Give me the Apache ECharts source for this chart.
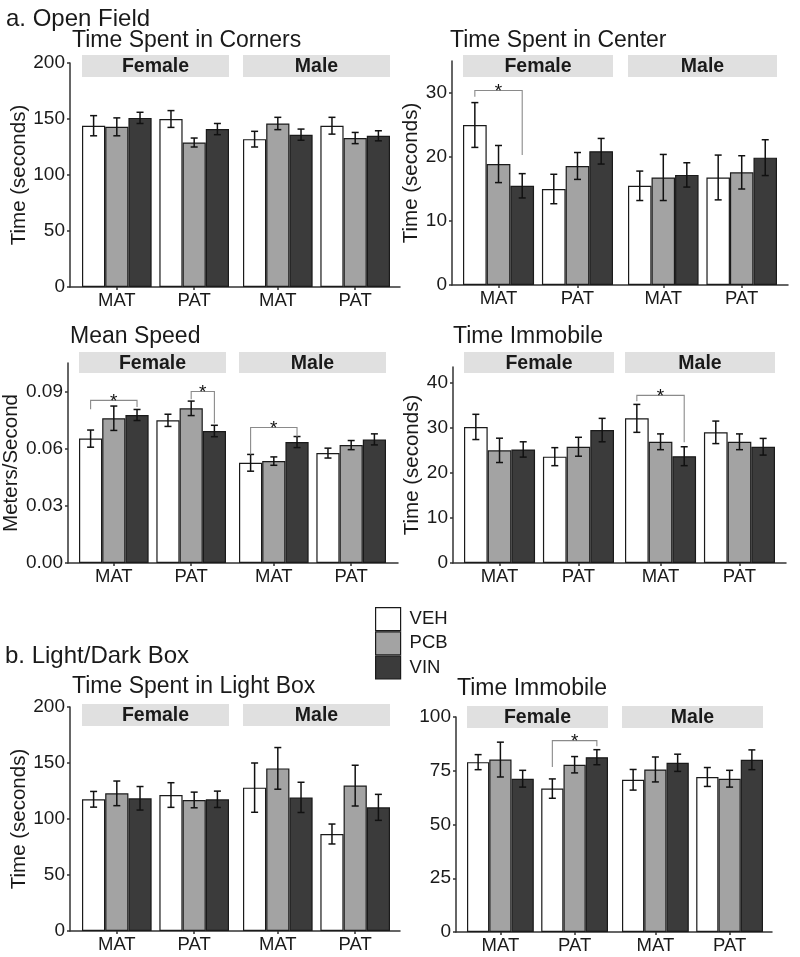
<!DOCTYPE html>
<html><head><meta charset="utf-8">
<script src="https://cdn.jsdelivr.net/npm/echarts@6/dist/echarts.min.js"></script>
<style>html,body{margin:0;padding:0;background:#fff}#c{width:800px;height:957px}</style>
</head><body><div id="c"></div>
<script>
// ---------------- DATA ----------------
const treatments = ['VEH', 'PCB', 'VIN'];
const lineages = ['MAT', 'PAT'];
const sexes = ['Female', 'Male'];
// value order in each array: Female-MAT, Female-PAT, Male-MAT, Male-PAT

// a. Open Field – Time Spent in Corners
const cornersMean = [[144, 150, 132, 144], [143, 129, 146, 133], [151, 141, 136, 135]];
const cornersSE   = [[9, 7.5, 7, 7.5], [8, 4, 5.5, 5], [5, 5, 5, 4.5]];
const cornersTicks = [0, 50, 100, 150, 200];
const cornersSig = [];

// a. Open Field – Time Spent in Center
const centerMean = [[25.0, 15.0, 15.5, 16.8], [18.9, 18.6, 16.8, 17.6], [15.5, 20.9, 17.2, 19.9]];
const centerSE   = [[3.5, 2.3, 2.3, 3.5], [2.9, 2.1, 3.6, 2.6], [1.9, 2.0, 1.9, 2.8]];
const centerTicks = [0, 10, 20, 30];
// [sexIndex, lineageIndex, fromTreatment, toTreatment, top, leftEnd, rightEnd]
const centerSig = [[0, 0, 0, 2, 30.4, 29.4, 20.3]];

// a. Open Field – Mean Speed
const speedMean = [[0.0653, 0.0749, 0.0526, 0.0577], [0.0760, 0.0812, 0.0535, 0.0619], [0.0777, 0.0693, 0.0635, 0.0649]];
const speedSE   = [[0.0045, 0.0032, 0.0044, 0.0026], [0.0064, 0.0038, 0.0022, 0.0024], [0.0029, 0.0030, 0.0029, 0.0029]];
const speedTicks = [0, 0.03, 0.06, 0.09];
const speedSig = [[0, 0, 0, 2, 0.0854, 0.0807, 0.0819], [0, 1, 1, 2, 0.0900, 0.0860, 0.0733], [1, 0, 0, 2, 0.0711, 0.0570, 0.0663]];

// a. Open Field – Time Immobile
const ofImmMean = [[30.2, 23.6, 32.1, 29.0], [25.0, 25.8, 26.9, 26.9], [25.2, 29.5, 23.7, 25.8]];
const ofImmSE   = [[2.8, 2.0, 3.1, 2.5], [2.7, 2.1, 1.75, 1.75], [1.7, 2.6, 2.1, 1.85]];
const ofImmTicks = [0, 10, 20, 30, 40];
const ofImmSig = [[1, 0, 0, 2, 37.2, 35.9, 26.8]];

// b. Light/Dark Box – Time Spent in Light Box
const lightMean = [[117.6, 121.4, 128, 86.6], [122.9, 117.0, 145.2, 129.8], [118.5, 117.6, 119.3, 110.4]];
const lightSE   = [[7, 11, 22, 8.9], [11, 7, 18.6, 18.2], [10.5, 7.3, 13.5, 11.6]];
const lightTicks = [0, 50, 100, 150, 200];
const lightSig = [];

// b. Light/Dark Box – Time Immobile
const ldImmMean = [[79.0, 66.7, 70.8, 72.1], [80.2, 77.8, 75.6, 71.3], [71.3, 81.3, 78.7, 80.1]];
const ldImmSE   = [[3.5, 4.5, 4.8, 4.4], [8.1, 3.8, 5.8, 3.9], [3.9, 3.5, 4.0, 4.6]];
const ldImmTicks = [0, 25, 50, 75, 100];
const ldImmSig = [[0, 1, 0, 2, 89.0, 76.7, 86.4]];

// ---------------- STYLE / LAYOUT ----------------
const FONT = '"Liberation Sans", Arial, Helvetica, sans-serif';
const INK = '#1a1a1a';
const COLORS = ['#ffffff', '#a3a3a3', '#3b3b3b'];
const AXIS = { color: '#333', width: 1.5 };

const LAYOUT = {
  corners: { axisX: 70, top: 63, bottom: 287, xEnd: 400, ymax: 200, facets: [[82, 229], [243, 390]], strip: [55, 77], tx: 72, ty: 29.5, nameGap: 35.5 },
  center:  { axisX: 452, top: 61, bottom: 285, xEnd: 788, ymax: 35, facets: [[463, 613], [628, 777]], strip: [55, 77], tx: 450, ty: 29.5, nameGap: 25 },
  speed:   { axisX: 68, top: 363, bottom: 563, xEnd: 398, ymax: 0.105, facets: [[79, 226], [239, 386]], strip: [352, 373], tx: 70, ty: 325.5, nameGap: 44 },
  ofImm:   { axisX: 453, top: 367, bottom: 563, xEnd: 786, ymax: 43.5, facets: [[464, 614], [625, 775]], strip: [352, 373], tx: 453, ty: 325.5, nameGap: 25 },
  light:   { axisX: 70, top: 707, bottom: 931, xEnd: 400, ymax: 200, facets: [[82, 229], [243, 390]], strip: [704, 726], tx: 72, ty: 675.5, nameGap: 35.5 },
  ldImm:   { axisX: 456, top: 717, bottom: 932, xEnd: 772, ymax: 100, facets: [[467, 608], [622, 763]], strip: [706, 728], tx: 457, ty: 677.5, nameGap: 25 }
};

const option = {
  animation: false,
  backgroundColor: '#ffffff',
  textStyle: { fontFamily: FONT },
  title: [
    { text: 'a. Open Field', left: 6, top: 7, padding: 0, textStyle: { fontSize: 24, fontWeight: 'normal', color: INK, fontFamily: FONT } },
    { text: 'b. Light/Dark Box', left: 5, top: 644, padding: 0, textStyle: { fontSize: 24, fontWeight: 'normal', color: INK, fontFamily: FONT } }
  ],
  legend: {
    data: treatments, left: 375, top: 607, orient: 'vertical', padding: 0, itemGap: 0,
    itemWidth: 25, itemHeight: 23, icon: 'rect', selectedMode: false,
    itemStyle: { borderColor: INK, borderWidth: 1.2 },
    textStyle: { fontSize: 18.5, color: INK, fontFamily: FONT, lineHeight: 23, padding: [0, 0, 0, 4] }
  },
  grid: [], xAxis: [], yAxis: [], series: [], graphic: []
};

function errRender(params, api) {
  const c = api.value(0), m = api.value(1), e = api.value(2), s = api.value(3);
  const band = api.size([1, 0])[0];
  const x = api.coord([c, m])[0] + (s - 1) * band * 0.3;
  const y1 = api.coord([c, m + e])[1], y2 = api.coord([c, m - e])[1];
  const hw = 3.5;
  const st = { stroke: '#111', lineWidth: 1.5 };
  return { type: 'group', children: [
    { type: 'line', shape: { x1: x, y1: y1, x2: x, y2: y2 }, style: st },
    { type: 'line', shape: { x1: x - hw, y1: y1, x2: x + hw, y2: y1 }, style: st },
    { type: 'line', shape: { x1: x - hw, y1: y2, x2: x + hw, y2: y2 }, style: st }
  ] };
}

function sigRender(params, api) {
  const c = api.value(0), s1 = api.value(1), s2 = api.value(2);
  const top = api.value(3), le = api.value(4), re = api.value(5);
  const band = api.size([1, 0])[0];
  const cx = api.coord([c, top])[0];
  const xa = cx + (s1 - 1) * band * 0.3, xb = cx + (s2 - 1) * band * 0.3;
  const yt = api.coord([c, top])[1], yl = api.coord([c, le])[1], yr = api.coord([c, re])[1];
  return { type: 'group', children: [
    { type: 'polyline', shape: { points: [[xa, yl], [xa, yt], [xb, yt], [xb, yr]] }, style: { stroke: '#8a8a8a', lineWidth: 1.1, fill: null } },
    { type: 'text', x: (xa + xb) / 2, y: yt + 1, style: { text: '*', font: '19px ' + FONT, fontSize: 19, align: 'center', verticalAlign: 'middle', textAlign: 'center', textVerticalAlign: 'middle', fill: '#111' } }
  ] };
}

function addPanel(key, title, yName, ticks, fmt, means, ses, sig) {
  const L = LAYOUT[key];
  const gi = option.grid.length;
  const h = L.bottom - L.top;
  option.grid.push({ left: L.axisX, top: L.top, width: L.xEnd - L.axisX, height: h });
  option.xAxis.push({ gridIndex: gi, type: 'value', min: 0, max: 1,
    axisLine: { show: true, lineStyle: AXIS }, axisTick: { show: false }, axisLabel: { show: false }, splitLine: { show: false } });
  option.yAxis.push({ gridIndex: gi, type: 'value', min: 0, max: L.ymax,
    name: yName, nameLocation: 'middle', nameGap: L.nameGap, nameRotate: 90,
    nameTextStyle: { fontSize: 20.5, color: INK, fontFamily: FONT },
    axisLine: { show: true, lineStyle: AXIS },
    axisTick: { show: true, length: 3, customValues: ticks, lineStyle: AXIS },
    axisLabel: { customValues: ticks, formatter: fmt, fontSize: 19, color: INK, margin: 5, fontFamily: FONT },
    splitLine: { show: false } });

  sexes.forEach((sex, f) => {
    const a = L.facets[f][0], b = L.facets[f][1];
    const band = (b - a) / 1.9;
    const g = option.grid.length;
    option.grid.push({ left: a - 0.05 * band, top: L.top, width: 2 * band, height: h });
    option.xAxis.push({ gridIndex: g, type: 'category', data: lineages,
      axisLine: { show: false },
      axisTick: { show: true, alignWithLabel: true, length: 3, lineStyle: AXIS },
      axisLabel: { fontSize: 18.5, color: INK, margin: 4, fontFamily: FONT }, splitLine: { show: false } });
    option.yAxis.push({ gridIndex: g, type: 'value', min: 0, max: L.ymax, show: false, splitLine: { show: false } });
    treatments.forEach((t, s) => {
      option.series.push({ type: 'bar', name: t, xAxisIndex: g, yAxisIndex: g,
        data: means[s].slice(f * 2, f * 2 + 2), barGap: '0%', barCategoryGap: '10%', silent: true,
        itemStyle: { color: COLORS[s], borderColor: INK, borderWidth: 1.2 } });
    });
    const ed = [];
    treatments.forEach((t, s) => {
      for (let c = 0; c < 2; c++) ed.push([c, means[s][f * 2 + c], ses[s][f * 2 + c], s]);
    });
    option.series.push({ type: 'custom', xAxisIndex: g, yAxisIndex: g, data: ed,
      encode: { x: 0, y: 1 }, renderItem: errRender, z: 5, silent: true });
    const sd = sig.filter(r => r[0] === f).map(r => r.slice(1));
    if (sd.length) {
      option.series.push({ type: 'custom', xAxisIndex: g, yAxisIndex: g, data: sd,
        encode: { x: 0, y: 3 }, renderItem: sigRender, z: 6, silent: true });
    }
    option.graphic.push({ type: 'rect', silent: true, z: 1,
      shape: { x: a, y: L.strip[0], width: b - a, height: L.strip[1] - L.strip[0] }, style: { fill: '#e0e0e0' } });
    option.graphic.push({ type: 'text', silent: true, z: 2, x: (a + b) / 2, y: (L.strip[0] + L.strip[1]) / 2 + 1,
      style: { text: sex, font: 'bold 19.5px ' + FONT, textAlign: 'center', textVerticalAlign: 'middle', fill: INK } });
  });
  option.title.push({ text: title, left: L.tx, top: L.ty, padding: 0,
    textStyle: { fontSize: 23, fontWeight: 'normal', color: INK, fontFamily: FONT } });
}

const intFmt = v => String(v);
const dec2 = v => v.toFixed(2);
addPanel('corners', 'Time Spent in Corners', 'Time (seconds)', cornersTicks, intFmt, cornersMean, cornersSE, cornersSig);
addPanel('center', 'Time Spent in Center', 'Time (seconds)', centerTicks, intFmt, centerMean, centerSE, centerSig);
addPanel('speed', 'Mean Speed', 'Meters/Second', speedTicks, dec2, speedMean, speedSE, speedSig);
addPanel('ofImm', 'Time Immobile', 'Time (seconds)', ofImmTicks, intFmt, ofImmMean, ofImmSE, ofImmSig);
addPanel('light', 'Time Spent in Light Box', 'Time (seconds)', lightTicks, intFmt, lightMean, lightSE, lightSig);
addPanel('ldImm', 'Time Immobile', '', ldImmTicks, intFmt, ldImmMean, ldImmSE, ldImmSig);

const chart = echarts.init(document.getElementById('c'), null, { renderer: 'canvas' });
chart.setOption(option);
</script>
</body></html>
